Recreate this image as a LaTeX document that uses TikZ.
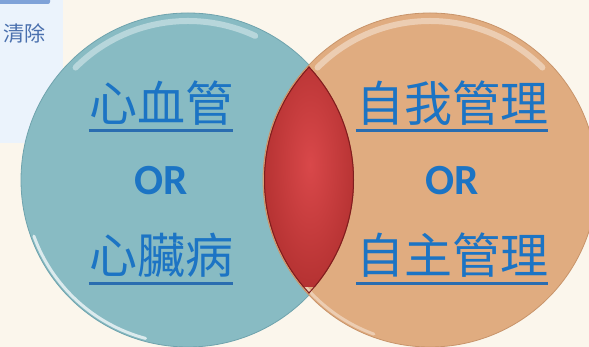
\documentclass[tikz,border=0pt]{standalone}
\usepackage{fontspec}
\usetikzlibrary{positioning}
\newfontfamily\cjk{Noto Sans CJK TC}
\newfontfamily\orfont{Carlito}
\definecolor{cream}{HTML}{FBF6EC}
\definecolor{panelblue}{HTML}{EBF3FC}
\definecolor{barblue}{HTML}{7FA2D8}
\definecolor{btntext}{HTML}{4A70AE}
\definecolor{teal}{HTML}{88BBC3}
\definecolor{tealrim}{HTML}{6FA3AD}
\definecolor{peach}{HTML}{E0AC80}
\definecolor{peachrim}{HTML}{C8946A}
\definecolor{lensin}{HTML}{D9484A}
\definecolor{lensout}{HTML}{B53232}
\definecolor{lensrim}{HTML}{7E1E1E}
\definecolor{labelblue}{HTML}{1C74C4}
\definecolor{lineblue}{HTML}{2A6DB0}

\begin{document}
\begin{tikzpicture}[x=1pt,y=1pt,
		cjklabel/.style={font=\cjk\fontsize{48}{48}\selectfont, text=labelblue, inner sep=0pt},
		orlabel/.style={font=\orfont\bfseries\fontsize{43}{43}\selectfont, text=labelblue, inner sep=0pt},
		uline/.style={draw=lineblue, line width=3pt},
		gloss/.style={white, opacity=.4, line width=6pt, line cap=round}]
		\useasboundingbox (0,0) rectangle (589,347);
		\clip (0,0) rectangle (589,347);
		\fill[cream] (0,0) rectangle (589,347);
		\fill[panelblue] (0,204) rectangle (63,347);
		\fill[barblue, rounded corners=2pt] (-5,343) rectangle (50,350);
		\node[font=\cjk\fontsize{21}{21}\selectfont, text=btntext, inner sep=0pt] (clear) at (24,313) {清除};
	
		\coordinate (heart) at (188,167);
		\coordinate (self) at (430,167);
	
		% the two circles
		\filldraw[fill=teal, draw=tealrim, line width=.8pt] (heart) circle[radius=167pt];
		\filldraw[fill=peach, draw=peachrim, line width=.8pt] (self) circle[radius=167pt];
		\draw[gloss] ([shift={(65:159pt)}]heart) arc[start angle=65, end angle=135, radius=159pt];
		\draw[gloss, opacity=.7, line width=3pt] ([shift={(200:164pt)}]heart) arc[start angle=200, end angle=255, radius=164pt];
		\draw[gloss] ([shift={(45:159pt)}]self) arc[start angle=45, end angle=135, radius=159pt];
		\draw[gloss, opacity=.4, line width=3pt] ([shift={(215:164pt)}]self) arc[start angle=215, end angle=250, radius=164pt];
	
		% overlap
		\begin{scope}
			\clip (heart) circle[radius=166pt];
			\clip (self) circle[radius=166pt];
			\shade[inner color=lensin, outer color=lensout] (262,60) rectangle (358,305);
			\draw[lensrim, line width=2pt] (heart) circle[radius=166pt];
			\draw[lensrim, line width=2pt] (self) circle[radius=166pt];
		\end{scope}
	
		\node[orlabel] (orL) at (161,166) {OR};
		\node[cjklabel, above=78pt of orL.center, anchor=center] (topL) {心血管};
		\node[cjklabel, below=74pt of orL.center, anchor=center] (botL) {心臟病};
	
		\node[orlabel] (orR) at (452,166) {OR};
		\node[cjklabel, above=78pt of orR.center, anchor=center] (topR) {自我管理};
		\node[cjklabel, below=74pt of orR.center, anchor=center] (botR) {自主管理};
	
		\draw[uline] ([yshift=-28pt]topL.west) -- ([yshift=-28pt]topL.east);
		\draw[uline] ([yshift=-29pt]botL.west) -- ([yshift=-29pt]botL.east);
		\draw[uline] ([yshift=-28pt]topR.west) -- ([yshift=-28pt]topR.east);
		\draw[uline] ([yshift=-29pt]botR.west) -- ([yshift=-29pt]botR.east);
	\end{tikzpicture}
\end{document}
